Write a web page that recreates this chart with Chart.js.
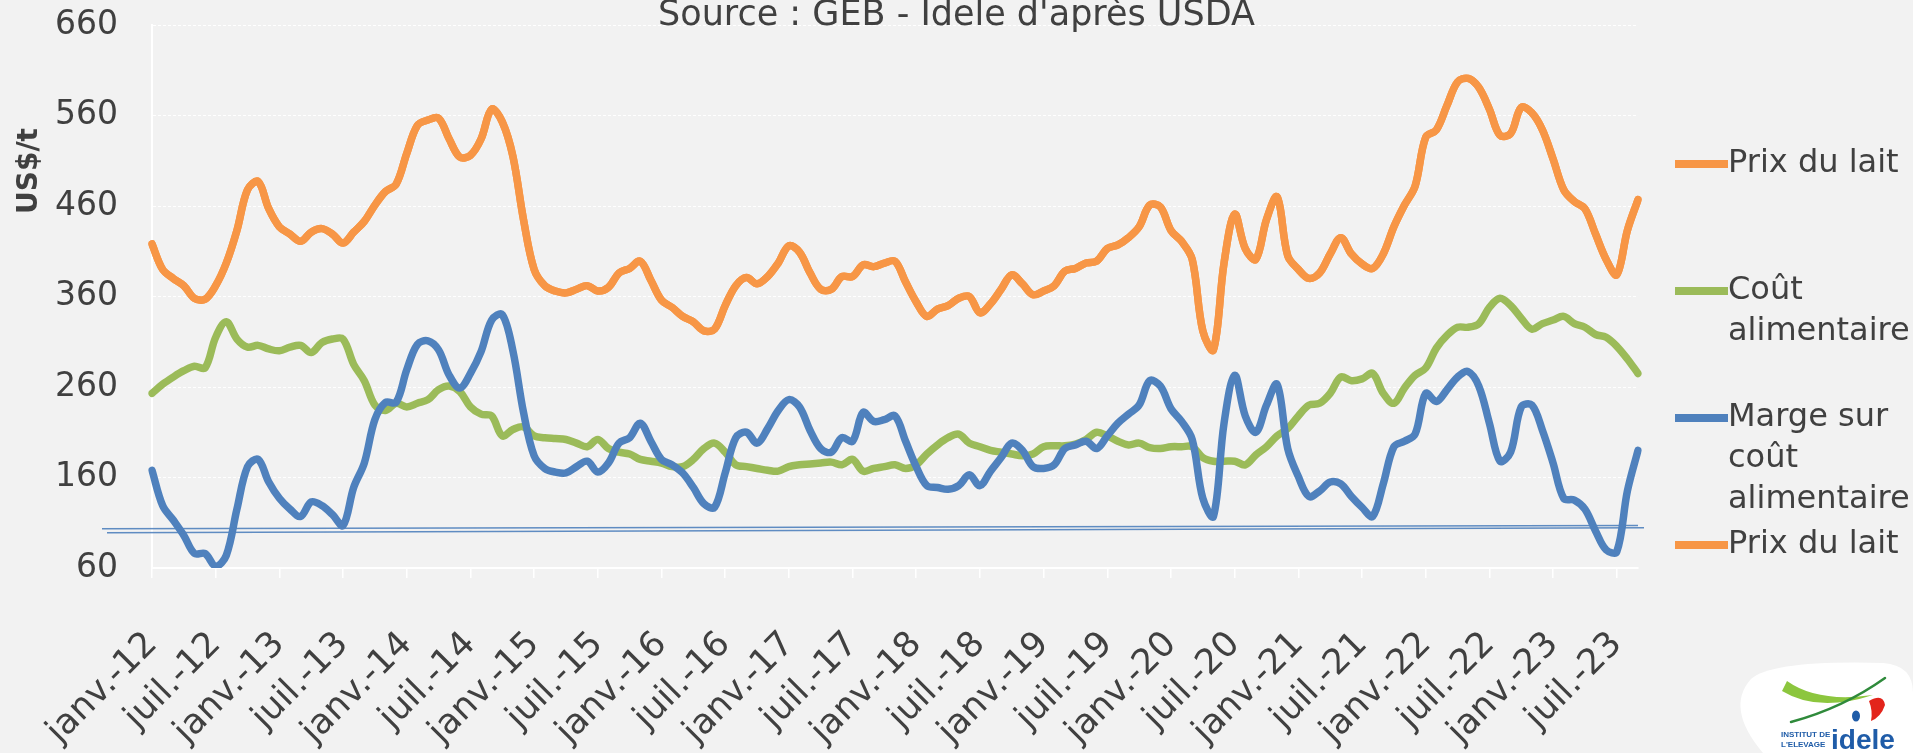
<!DOCTYPE html>
<html lang="fr">
<head>
<meta charset="utf-8">
<title>Prix du lait, coût alimentaire et marge</title>
<script src="https://cdn.jsdelivr.net/npm/chart.js@4.4.1/dist/chart.umd.min.js"></script>
<style>
  html, body { margin: 0; padding: 0; background: #f2f2f2; overflow: hidden; }
  canvas { display: block; }
</style>
</head>
<body>
<canvas id="myChart" width="1913" height="753"></canvas>
<script>
// Axe des mois : janv.-12 -> sept.-23
const moisNoms = ['janv.', 'févr.', 'mars', 'avr.', 'mai', 'juin', 'juil.', 'août', 'sept.', 'oct.', 'nov.', 'déc.'];
const annees = ['12', '13', '14', '15', '16', '17', '18', '19', '20', '21', '22', '23'];
const mois = [];
annees.forEach(a => moisNoms.forEach(m => mois.push(m + '-' + a)));
mois.length = 141;

// graduations de l'axe vertical (US$/t)
const graduationsY = [60, 160, 260, 360, 460, 560, 660];

// séries mensuelles (une ligne = une année)
const prixLait = [
  418, 390, 380, 372, 358, 357, 372, 397, 433, 478, 487, 457,
  437, 429, 421, 431, 435, 429, 419, 431, 443, 461, 476, 484,
  518, 549, 555, 557, 534, 514, 516, 534, 567, 553, 515, 445,
  390, 372, 366, 364, 368, 372, 366, 370, 386, 391, 399, 378,
  356, 348, 338, 332, 322, 324, 350, 372, 381, 374, 382, 397,
  416, 409, 386, 368, 368, 382, 382, 395, 393, 397, 399, 376,
  354, 338, 346, 350, 358, 360, 342, 352, 368, 384, 374, 362,
  366, 372, 388, 391, 397, 399, 413, 417, 425, 437, 461, 459,
  433, 421, 401, 322, 301, 397, 451, 413, 401, 445, 470, 405,
  390, 380, 386, 407, 425, 407, 396, 391, 407, 437, 461, 482,
  536, 544, 571, 597, 601, 591, 567, 538, 540, 569, 563, 544,
  512, 478, 465, 457, 429, 401, 384, 433, 467
];

const coutAlim = [
  253, 263, 271, 278, 283, 281, 315, 332, 313, 304, 306, 302,
  300, 304, 306, 298, 309, 313, 313, 285, 267, 240, 234, 242,
  238, 242, 246, 257, 261, 255, 238, 230, 228, 206, 213, 216,
  206, 204, 203, 202, 198, 194, 202, 192, 188, 186, 180, 178,
  176, 172, 172, 180, 192, 198, 188, 174, 172, 170, 168, 167,
  172, 174, 175, 176, 177, 174, 180, 167, 170, 172, 174, 170,
  174, 186, 196, 204, 208, 198, 194, 190, 188, 186, 184, 186,
  194, 195, 195, 197, 202, 210, 206, 200, 196, 198, 193, 192,
  194, 194, 194, 182, 178, 178, 178, 174, 185, 194, 206, 214,
  228, 240, 242, 253, 271, 267, 269, 275, 253, 242, 259, 273,
  281, 303, 317, 326, 326, 330, 348, 358, 350, 336, 324, 330,
  334, 338, 330, 326, 318, 315, 305, 291, 275
];

const marge = [
  168, 129, 113, 96, 76, 76, 62, 74, 125, 172, 180, 155,
  137, 125, 117, 133, 129, 119, 107, 149, 176, 224, 243, 243,
  279, 307, 311, 301, 273, 259, 275, 299, 334, 340, 300, 232,
  184, 170, 166, 165, 172, 178, 166, 176, 198, 204, 220, 200,
  180, 174, 165, 149, 131, 127, 165, 204, 210, 198, 214, 234,
  246, 238, 212, 192, 188, 204, 200, 232, 222, 224, 228, 200,
  172, 151, 149, 147, 151, 163, 151, 167, 182, 198, 190, 172,
  170, 174, 192, 196, 200, 192, 206, 220, 230, 240, 267, 261,
  236, 222, 202, 137, 117, 220, 273, 228, 210, 240, 263, 192,
  161, 139, 145, 155, 153, 139, 127, 117, 153, 194, 200, 208,
  253, 244, 257, 271, 277, 261, 220, 178, 188, 238, 240, 212,
  176, 137, 135, 125, 101, 80, 78, 145, 190
];

const FONT = '"DejaVu Sans", sans-serif';
const TEXTE = '#404040';
Chart.defaults.font.family = FONT;
Chart.defaults.color = TEXTE;

const serie = (label, data, color, order) => ({
  label,
  data,
  borderColor: color,
  backgroundColor: color,
  borderWidth: 7.5,
  pointRadius: 0,
  tension: 0.35,
  borderJoinStyle: 'round',
  borderCapStyle: 'round',
  order
});

// Source en haut
const titreSource = {
  id: 'titreSource',
  afterDraw(chart) {
    const {ctx} = chart;
    ctx.save();
    ctx.font = '35px ' + FONT;
    ctx.fillStyle = TEXTE;
    ctx.textAlign = 'center';
    ctx.textBaseline = 'alphabetic';
    ctx.fillText("Source : GEB - Idele d'après USDA", chart.width / 2, 25);
    ctx.restore();
  }
};

// Unité verticale, en haut à gauche
const uniteY = {
  id: 'uniteY',
  afterDraw(chart) {
    const {ctx, chartArea} = chart;
    ctx.save();
    ctx.translate(30, chartArea.top + 146);
    ctx.rotate(-Math.PI / 2);
    ctx.font = 'bold 28px ' + FONT;
    ctx.fillStyle = TEXTE;
    ctx.textAlign = 'center';
    ctx.textBaseline = 'middle';
    ctx.fillText('US$/t', 0, 0);
    ctx.restore();
  }
};

// deux traits fins bleus vers 100 $/t
const traitsRepere = {
  id: 'traitsRepere',
  afterDatasetsDraw(chart) {
    const {ctx, chartArea: a, scales: {y}} = chart;
    const traits = [
      {v: [103.5, 107], dx: [-50, 0]},
      {v: [99, 104.5], dx: [-45, 6]}
    ];
    ctx.save();
    ctx.strokeStyle = 'rgba(79, 129, 189, 0.9)';
    ctx.lineWidth = 1.5;
    traits.forEach(t => {
      ctx.beginPath();
      ctx.moveTo(a.left + t.dx[0], y.getPixelForValue(t.v[0]));
      ctx.lineTo(a.right + t.dx[1], y.getPixelForValue(t.v[1]));
      ctx.stroke();
    });
    ctx.restore();
  }
};

function couper(ctx, texte, largeur) {
  const mots = texte.split(' ');
  const lignes = [];
  let ligne = '';
  mots.forEach(m => {
    const essai = ligne ? ligne + ' ' + m : m;
    if (ligne && ctx.measureText(essai).width > largeur) {
      lignes.push(ligne);
      ligne = m;
    } else {
      ligne = essai;
    }
  });
  lignes.push(ligne);
  return lignes;
}

// légende à droite, libellés sur plusieurs lignes
const legendeDroite = {
  id: 'legendeDroite',
  afterDraw(chart) {
    const {ctx, chartArea} = chart;
    const x0 = chartArea.right + 37;
    const xt = x0 + 53;
    ctx.save();
    ctx.font = '32px ' + FONT;
    ctx.textBaseline = 'middle';
    chart.data.datasets.forEach((ds, i) => {
      const y = chartArea.top + 139 + i * 127;
      ctx.fillStyle = ds.borderColor;
      ctx.fillRect(x0, y - 4, 53, 8);
      ctx.fillStyle = TEXTE;
      couper(ctx, ds.label, chart.width - xt - 2)
        .forEach((l, j) => ctx.fillText(l, xt, y + j * 41));
    });
    ctx.restore();
  }
};

// logo Idele en bas à droite
const logo = {
  id: 'logo',
  afterDraw(chart) {
    const {ctx} = chart;
    const W = chart.width, H = chart.height;
    ctx.save();
    ctx.fillStyle = '#ffffff';
    ctx.beginPath();
    ctx.moveTo(W - 150, H);
    ctx.quadraticCurveTo(W - 188, H - 45, W - 162, H - 74);
    ctx.quadraticCurveTo(W - 140, H - 93, W - 30, H - 90);
    ctx.quadraticCurveTo(W, H - 88, W, H - 60);
    ctx.lineTo(W, H);
    ctx.closePath();
    ctx.fill();

    // bandeau vert clair
    ctx.fillStyle = '#8cc63e';
    ctx.beginPath();
    ctx.moveTo(W - 131, H - 62);
    ctx.quadraticCurveTo(W - 95, H - 40, W - 40, H - 58);
    ctx.quadraticCurveTo(W - 95, H - 50, W - 126, H - 72);
    ctx.closePath();
    ctx.fill();

    // trait vert foncé
    ctx.strokeStyle = '#2f8a3b';
    ctx.lineWidth = 2.5;
    ctx.lineCap = 'round';
    ctx.beginPath();
    ctx.moveTo(W - 122, H - 31);
    ctx.quadraticCurveTo(W - 70, H - 45, W - 28, H - 75);
    ctx.stroke();

    // touche rouge et goutte bleue
    ctx.fillStyle = '#e3241b';
    ctx.beginPath();
    ctx.moveTo(W - 44, H - 52);
    ctx.quadraticCurveTo(W - 30, H - 60, W - 28, H - 48);
    ctx.quadraticCurveTo(W - 32, H - 36, W - 42, H - 32);
    ctx.quadraticCurveTo(W - 40, H - 42, W - 44, H - 52);
    ctx.fill();
    ctx.fillStyle = '#1f5ca8';
    ctx.beginPath();
    ctx.ellipse(W - 57, H - 37, 4, 5.5, 0, 0, Math.PI * 2);
    ctx.fill();

    ctx.fillStyle = '#1f5ca8';
    ctx.font = 'bold 8px "Liberation Sans Narrow", "Liberation Sans", sans-serif';
    ctx.textBaseline = 'alphabetic';
    ctx.fillText('INSTITUT DE', W - 132, H - 16);
    ctx.fillText("L'ELEVAGE", W - 132, H - 6);
    ctx.font = 'bold 28px "Liberation Sans Narrow", "Liberation Sans", sans-serif';
    ctx.fillText('idele', W - 82, H - 4);
    ctx.restore();
  }
};

const config = {
  type: 'line',
  data: {
    labels: mois,
    datasets: [
      serie('Prix du lait', prixLait, '#f79646', 4),
      serie('Coût alimentaire', coutAlim, '#9bbb59', 3),
      serie('Marge sur coût alimentaire', marge, '#4f81bd', 2),
      serie('Prix du lait', prixLait, '#f79646', 1)
    ]
  },
  options: {
    responsive: false,
    animation: false,
    layout: { padding: { top: 25, right: 275, bottom: 0, left: 0 } },
    plugins: {
      legend: { display: false },
      tooltip: { enabled: false },
      title: { display: false }
    },
    scales: {
      x: {
        type: 'category',
        offset: false,
        afterBuildTicks(scale) {
          // un libellé tous les six mois
          scale.ticks = scale.ticks.filter(t => t.value % 6 === 0);
        },
        afterFit(scale) { scale.height = 185; },
        ticks: {
          autoSkip: false,
          minRotation: 45,
          maxRotation: 45,
          padding: 46,
          color: TEXTE,
          font: { size: 35 }
        },
        grid: {
          drawOnChartArea: false,
          drawTicks: true,
          tickLength: 10,
          color: '#ffffff',
          lineWidth: 1.5
        },
        border: { display: true, color: '#ffffff', width: 2 }
      },
      y: {
        min: graduationsY[0],
        max: graduationsY[graduationsY.length - 1],
        afterBuildTicks(scale) {
          scale.ticks = graduationsY.map(v => ({ value: v }));
        },
        afterFit(scale) { scale.width = 152; },
        ticks: {
          padding: 2,
          color: TEXTE,
          font: { size: 33 }
        },
        grid: {
          color: '#ffffff',
          lineWidth: 1,
          drawTicks: true,
          tickLength: 32,
          tickColor: 'rgba(0,0,0,0)'
        },
        border: { display: true, color: '#ffffff', width: 2, dash: [3, 2] }
      }
    }
  },
  plugins: [traitsRepere, titreSource, uniteY, legendeDroite, logo]
};

const myChart = new Chart(document.getElementById('myChart'), config);
</script>
</body>
</html>
